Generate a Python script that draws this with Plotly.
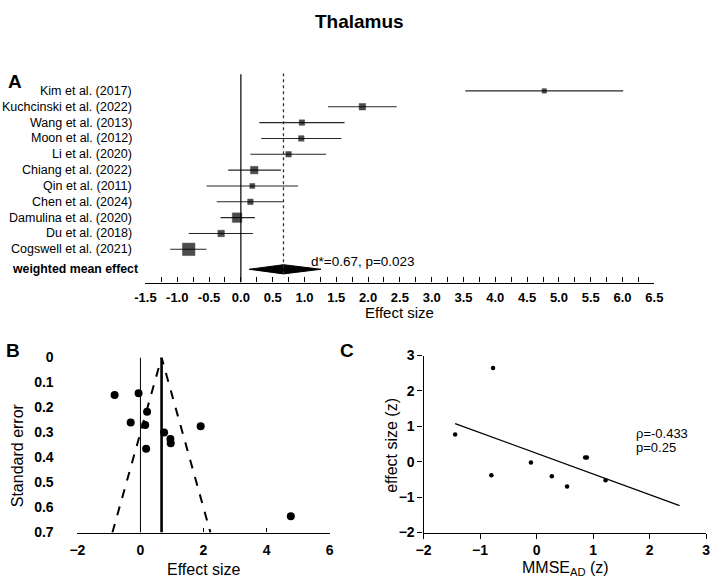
import plotly.graph_objects as go

# ---------------- data ----------------
studies = ["Kim et al. (2017)", "Kuchcinski et al. (2022)", "Wang et al. (2013)",
           "Moon et al. (2012)", "Li et al. (2020)", "Chiang et al. (2022)",
           "Qin et al. (2011)", "Chen et al. (2024)", "Damulina et al. (2020)",
           "Du et al. (2018)", "Cogswell et al. (2021)"]
effect = [4.77, 1.91, 0.96, 0.95, 0.75, 0.21, 0.18, 0.15, -0.06, -0.31, -0.82]
ci_low = [3.53, 1.37, 0.29, 0.32, 0.15, -0.20, -0.54, -0.38, -0.32, -0.82, -1.11]
ci_high = [6.01, 2.45, 1.63, 1.58, 1.34, 0.63, 0.90, 0.66, 0.22, 0.19, -0.54]
weights = [4.5, 6.5, 5.5, 5.5, 5.5, 7.5, 5, 5.5, 9.5, 6.5, 12.5]   # square sizes (relative weight)
pooled_label = "weighted mean effect"
pooled = 0.67
pooled_low = 0.13
pooled_high = 1.26
pooled_text = "d*=0.67, p=0.023"

# funnel plot
se = [0.635, 0.275, 0.343, 0.326, 0.30, 0.217, 0.365, 0.27, 0.143, 0.26, 0.15]
funnel_x = [-0.89, 0.67, 2.22]
funnel_y = [0.7, 0.0, 0.7]

# meta-regression
mmse_z = [-1.44, -0.77, -0.80, -0.10, 0.27, 0.54, 0.86, 0.89, 1.22]
es_z = [0.77, 2.65, -0.38, -0.02, -0.41, -0.70, 0.12, 0.12, -0.52]
trend_x = [-1.44, 2.53]
trend_y = [1.08, -1.24]
rho_text = "ρ=-0.433"
p_text = "p=0.25"

W, H = 720, 586
FONT = "Liberation Sans, Arial, sans-serif"


def px(x):
    return x / W


def py(y):
    return 1 - y / H


fig = go.Figure()

# ---------------- panel A ----------------
rows = list(range(len(studies)))
pooled_row = 11.26
fig.add_trace(go.Scatter(
    x=effect, y=rows, mode="markers", xaxis="x", yaxis="y",
    marker=dict(symbol="square", size=weights, color="black",
                line=dict(width=0.5, color="black")),
    error_x=dict(type="data", symmetric=False,
                 array=[h - e for h, e in zip(ci_high, effect)],
                 arrayminus=[e - l for e, l in zip(effect, ci_low)],
                 color="#262626", thickness=1.1, width=0),
    showlegend=False, hoverinfo="skip"))
dh = 0.29
fig.add_trace(go.Scatter(
    x=[pooled_low, pooled, pooled_high, pooled, pooled_low],
    y=[pooled_row, pooled_row - dh, pooled_row, pooled_row + dh, pooled_row],
    mode="lines", fill="toself", fillcolor="black", line=dict(color="black", width=1),
    xaxis="x", yaxis="y", showlegend=False, hoverinfo="skip"))

fig.add_shape(type="line", xref="x", yref="y", x0=0, x1=0, y0=-1.05, y1=12.1,
              line=dict(color="black", width=1.2))
fig.add_shape(type="line", xref="x", yref="y", x0=pooled, x1=pooled, y0=-1.12, y1=11.78,
              line=dict(color="#333", width=1.3, dash="dot"))

for i, s in enumerate(studies):
    fig.add_annotation(x=px(127), xref="paper", y=i, yref="y", text=s, showarrow=False,
                       xanchor="right", yanchor="middle",
                       font=dict(family=FONT, size=12.5, color="black"))
fig.add_annotation(x=px(133), xref="paper", y=pooled_row, yref="y",
                   text="<b>" + pooled_label + "</b>", showarrow=False,
                   xanchor="right", yanchor="middle",
                   font=dict(family=FONT, size=12.3, color="black"))
fig.add_annotation(x=1.07, xref="x", y=pooled_row + 0.12, yref="y",
                   text=pooled_text, showarrow=False, xanchor="left", yanchor="bottom",
                   font=dict(family=FONT, size=13.5, color="black"))

# ---------------- panel B ----------------
fig.add_trace(go.Scatter(
    x=funnel_x, y=funnel_y, mode="lines", xaxis="x2", yaxis="y2",
    line=dict(color="black", width=2, dash="dash"), cliponaxis=False,
    showlegend=False, hoverinfo="skip"))
fig.add_shape(type="line", xref="x2", yref="y2", x0=0, x1=0, y0=0, y1=0.7,
              line=dict(color="black", width=1))
fig.add_shape(type="line", xref="x2", yref="y2", x0=pooled, x1=pooled, y0=0, y1=0.7,
              line=dict(color="black", width=2.6))
fig.add_trace(go.Scatter(
    x=effect, y=se, mode="markers", xaxis="x2", yaxis="y2", cliponaxis=False,
    marker=dict(symbol="circle", size=8, color="black"),
    showlegend=False, hoverinfo="skip"))

# ---------------- panel C ----------------
fig.add_trace(go.Scatter(
    x=trend_x, y=trend_y, mode="lines", xaxis="x3", yaxis="y3",
    line=dict(color="black", width=1.3), showlegend=False, hoverinfo="skip"))
fig.add_trace(go.Scatter(
    x=mmse_z, y=es_z, mode="markers", xaxis="x3", yaxis="y3",
    marker=dict(symbol="circle", size=4.5, color="black"),
    showlegend=False, hoverinfo="skip"))
fig.add_annotation(x=px(641), xref="paper", y=py(437), yref="paper", text=rho_text,
                   showarrow=False, xanchor="left", yanchor="middle",
                   font=dict(family=FONT, size=13, color="black"))
fig.add_annotation(x=px(641), xref="paper", y=py(452), yref="paper", text=p_text,
                   showarrow=False, xanchor="left", yanchor="middle",
                   font=dict(family=FONT, size=13, color="black"))

# ---------------- titles & panel letters ----------------
def txt(x, y, t, size, bold=False, anchor="center", angle=0):
    fig.add_annotation(x=px(x), y=py(y), xref="paper", yref="paper",
                       text=("<b>%s</b>" % t) if bold else t, showarrow=False,
                       xanchor=anchor, yanchor="middle", textangle=angle,
                       font=dict(family=FONT, size=size, color="black"))

txt(358, 14, "Thalamus", 19, bold=True)
txt(4, 76, "A", 19, bold=True)
txt(2, 352, "B", 19, bold=True)
txt(346, 352, "C", 19, bold=True)
txt(400, 313, "Effect size", 15)
txt(198, 577, "Effect size", 16)
txt(7, 460, "Standard error", 16, angle=-90)
txt(392, 450, "effect size (z)", 16, angle=-90)
txt(570, 576, "MMSE<sub>AD</sub> (z)", 16)

tickfont_a = dict(family=FONT, size=13, color="black", weight="bold")
tickfont_b = dict(family=FONT, size=14, color="black", weight="bold")

fig.update_layout(
    width=W, height=H, margin=dict(l=0, r=0, t=0, b=0),
    paper_bgcolor="white", plot_bgcolor="white",
    xaxis=dict(domain=[px(138.3), px(661.7)], range=[-1.5, 6.5], anchor="y",
               tickmode="array", tickvals=[-1.5 + 0.5 * k for k in range(17)],
               ticktext=["%.1f" % (-1.5 + 0.5 * k) for k in range(17)],
               showline=True, linecolor="black", linewidth=1.2,
               ticks="inside", ticklen=5, tickcolor="black", tickwidth=1.2,
               minor=dict(dtick=0.25, tick0=-1.5, ticks="inside", ticklen=5,
                          tickcolor="black", tickwidth=1.2, showgrid=False),
               showgrid=False, zeroline=False, tickfont=tickfont_a,
               ticklabelstandoff=3, fixedrange=True),
    yaxis=dict(domain=[py(282.3), py(67)], range=[12.1, -1.12], anchor="x",
               visible=False, fixedrange=True),
    xaxis2=dict(domain=[px(68.3), px(327.7)], range=[-2, 6], anchor="y2",
                tickvals=[-2, 0, 2, 4, 6], showline=True, linecolor="black",
                linewidth=1.2, ticks="inside", ticklen=4, tickcolor="black",
                showgrid=False, zeroline=False, tickfont=tickfont_b,
                ticklabelstandoff=5, fixedrange=True),
    yaxis2=dict(domain=[py(539.3), py(359.3)], range=[0.7, 0], anchor="x2",
                tickvals=[0, 0.1, 0.2, 0.3, 0.4, 0.5, 0.6, 0.7],
                ticktext=["0", "0.1", "0.2", "0.3", "0.4", "0.5", "0.6", "0.7"],
                showline=False, ticks="outside", ticklen=20,
                tickcolor="rgba(0,0,0,0)", showgrid=False, zeroline=False,
                tickfont=tickfont_b, fixedrange=True),
    xaxis3=dict(domain=[px(424.3), px(715)], range=[-2, 3], anchor="y3",
                dtick=1, showline=True, linecolor="black", linewidth=1.2,
                ticks="outside", ticklen=5, tickcolor="black",
                showgrid=False, zeroline=False, tickfont=tickfont_b, fixedrange=True),
    yaxis3=dict(domain=[py(539.3), py(357.3)], range=[-2, 3], anchor="x3",
                dtick=1, showline=True, linecolor="black", linewidth=1.2,
                ticks="outside", ticklen=5, tickcolor="black",
                showgrid=False, zeroline=False, tickfont=tickfont_b, fixedrange=True),
)

fig.write_html("out.html")
